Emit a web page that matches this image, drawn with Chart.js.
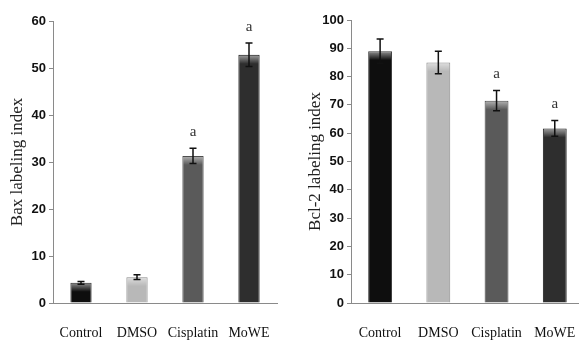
<!DOCTYPE html>
<html>
<head>
<meta charset="utf-8">
<script src="https://cdn.jsdelivr.net/npm/chart.js@4.4.1/dist/chart.umd.min.js"></script>
<style>
  html, body { margin: 0; padding: 0; background: #fff; }
  body { width: 579px; height: 340px; position: relative; overflow: hidden; }
  .box { position: absolute; top: 0; height: 340px; overflow: hidden; }
  #leftBox { left: 0; width: 290px; }
  #rightBox { left: 290px; width: 289px; }
</style>
</head>
<body>
<div class="box" id="leftBox"><canvas id="baxChart" width="290" height="340"></canvas></div>
<div class="box" id="rightBox"><canvas id="bclChart" width="300" height="340"></canvas></div>
<script>
const categories = ['Control', 'DMSO', 'Cisplatin', 'MoWE']
const barColors = ['#0e0e0e', '#b8b8b8', '#5a5a5a', '#2e2e2e']
const barBorders = ['#3a3a3a', '#8a8a8a', '#444444', '#1a1a1a']

const baxValues = [4.3, 5.5, 31.3, 52.8]
const baxErrors = [0.3, 0.5, 1.6, 2.5]
const baxMarks = ['', '', 'a', 'a']

const bclValues = [89, 85, 71.5, 61.7]
const bclErrors = [4.3, 4.0, 3.6, 2.8]
const bclMarks = ['', '', 'a', 'a']

const tickFont = { family: "'Liberation Sans', Arial, sans-serif", size: 13, weight: 'bold' }
const serifFont = "'Liberation Serif', 'DejaVu Serif', serif"

// error bars, top highlight and the "a" marks
const extrasPlugin = {
  id: 'extras',
  afterDatasetsDraw (chart) {
    const { ctx } = chart
    const yScale = chart.scales.y
    const extra = chart.options.plugins.extras
    const meta = chart.getDatasetMeta(0)
    meta.data.forEach((bar, i) => {
      const value = chart.data.datasets[0].data[i]
      const err = extra.errors[i]
      const half = bar.width / 2
      // soft highlight on the top of each bar
      const grad = ctx.createLinearGradient(0, bar.y, 0, bar.y + 9)
      grad.addColorStop(0, 'rgba(255,255,255,0.55)')
      grad.addColorStop(1, 'rgba(255,255,255,0)')
      ctx.save()
      ctx.fillStyle = grad
      ctx.fillRect(bar.x - half + 1, bar.y + 1, bar.width - 2, 9)
      ctx.restore()

      const yTop = yScale.getPixelForValue(value + err)
      const yBot = yScale.getPixelForValue(value - err)
      ctx.save()
      ctx.strokeStyle = '#111'
      ctx.lineWidth = 1.5
      ctx.beginPath()
      ctx.moveTo(bar.x, yTop)
      ctx.lineTo(bar.x, yBot)
      ctx.moveTo(bar.x - 3.5, yTop)
      ctx.lineTo(bar.x + 3.5, yTop)
      ctx.moveTo(bar.x - 3.5, yBot)
      ctx.lineTo(bar.x + 3.5, yBot)
      ctx.stroke()
      if (extra.marks[i]) {
        ctx.fillStyle = '#333'
        ctx.font = '15px ' + serifFont
        ctx.textAlign = 'center'
        ctx.textBaseline = 'middle'
        ctx.fillText(extra.marks[i], bar.x, yTop - 16)
      }
      ctx.restore()
    })
  }
}

const makeChart = (id, values, errors, marks, cfg) => {
  const canvas = document.querySelector(id)
  const data = {
    labels: categories,
    datasets: [{
      data: values,
      backgroundColor: barColors,
      borderColor: barBorders,
      borderWidth: 1,
      barPercentage: cfg.barPct,
      categoryPercentage: 1
    }]
  }

  const options = {
    responsive: false,
    animation: false,
    layout: {
      padding: cfg.padding
    },
    plugins: {
      legend: { display: false },
      tooltip: { enabled: false },
      extras: { errors, marks }
    },
    scales: {
      x: {
        grid: { display: false },
        border: { display: true, color: '#8a8a8a', width: 1 },
        ticks: {
          color: '#111',
          padding: 14,
          maxRotation: 0,
          minRotation: 0,
          autoSkip: false,
          font: { family: serifFont, size: 14 }
        },
        afterFit: (scale) => { scale.height = 37 }
      },
      y: {
        min: 0,
        max: cfg.max,
        ticks: {
          stepSize: 10,
          color: '#111',
          padding: 3,
          font: tickFont
        },
        grid: {
          drawOnChartArea: false,
          drawTicks: true,
          tickLength: 4,
          color: '#8a8a8a'
        },
        border: { display: true, color: '#8a8a8a', width: 1 },
        title: {
          display: true,
          text: cfg.title,
          color: '#222',
          padding: { top: cfg.titlePad, bottom: 0 },
          font: { family: serifFont, size: 17 }
        },
        afterFit: (scale) => { scale.width = cfg.axisWidth }
      }
    }
  }

  return new Chart(canvas, { type: 'bar', data, options, plugins: [extrasPlugin] })
}

makeChart('#baxChart', baxValues, baxErrors, baxMarks, {
  max: 60,
  title: 'Bax labeling index',
  axisWidth: 53,
  titlePad: 7,
  barPct: 0.38,
  padding: { top: 21, right: 13, left: 0, bottom: 0 }
})

makeChart('#bclChart', bclValues, bclErrors, bclMarks, {
  max: 100,
  title: 'Bcl-2 labeling index',
  axisWidth: 61,
  titlePad: 15,
  barPct: 0.41,
  padding: { top: 20, right: 5, left: 0, bottom: 0 }
})
</script>
</body>
</html>
